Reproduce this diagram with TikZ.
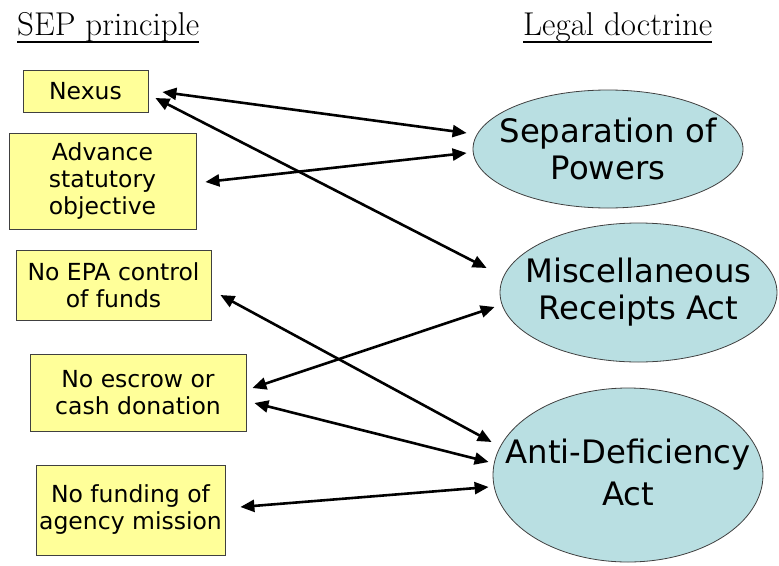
\documentclass[tikz,border=0pt]{standalone}
\usepackage{fontspec}
\newfontfamily\boxfont{DejaVu Sans}
\usetikzlibrary{shapes.geometric,arrows.meta}
\definecolor{boxyellow}{HTML}{FFFF99}
\definecolor{ellblue}{HTML}{B9DFE2}
\tikzset{
  principle/.style={draw=black!75, line width=0.8pt, fill=boxyellow, rectangle, inner sep=0pt,
    align=center, font=\boxfont\fontsize{23.5}{27}\selectfont},
  doctrine/.style={draw=black!75, line width=0.8pt, fill=ellblue, ellipse, inner sep=0pt},
  doctext/.style={inner sep=0pt, align=center, font=\boxfont\fontsize{32.3}{37}\selectfont},
  link/.style={line width=2.6pt, {Triangle[length=14pt,width=12pt]}-{Triangle[length=14pt,width=12pt]}},
  title/.style={inner sep=0pt, anchor=base west, font=\fontsize{33}{38}\selectfont}
}
\begin{document}
\begin{tikzpicture}[x=1pt,y=-1pt]
\useasboundingbox (0,0) rectangle (779,565);

% titles
\node[title] (t1) at (17,35) {SEP principle};
\node[title] (t2) at (523,35) {Legal doctrine};
\draw[line width=2pt] ([yshift=-7pt]t1.base west) -- ([yshift=-7pt]t1.base east);
\draw[line width=2pt] ([yshift=-7pt]t2.base west) -- ([yshift=-7pt]t2.base east);

% principles
\node[principle, minimum width=125pt, minimum height=42pt] (nexus) at (85.5,91) {Nexus};
\node[principle, minimum width=187pt, minimum height=96pt] (adv) at (102.5,181) {Advance\\statutory\\objective};
\node[principle, minimum width=195pt, minimum height=70pt] (epa) at (113.5,285) {No EPA control\\of funds};
\node[principle, minimum width=216pt, minimum height=77pt] (escrow) at (138,392.5) {No escrow or\\cash donation};
\node[principle, minimum width=189pt, minimum height=90pt] (fund) at (130.5,510) {No funding of\\agency mission};

% doctrines
\node[doctrine, minimum width=270pt, minimum height=118pt] (sep) at (608,149) {};
\node[doctext] (septext) at (608,149) {Separation of\\Powers};
\node[doctrine, minimum width=277pt, minimum height=139pt] (misc) at (638.5,292.5) {};
\node[doctext] (misctext) at (638.5,292.5) {Miscellaneous\\Receipts Act};
\node[doctrine, minimum width=270pt, minimum height=174pt] (anti) at (628,475) {};
\node[doctext, font=\boxfont\fontsize{32.3}{42}\selectfont] (antitext) at (628,472) {Anti-Deficiency\\Act};

% connectors
\draw[link] ([shift={(14,1)}]nexus.east) -- ([shift={(-6,-16)}]sep.west);
\draw[link] ([shift={(9,1)}]adv.east) -- ([shift={(-6,4)}]sep.west);
\draw[link] ([shift={(7,7)}]nexus.east) -- ([shift={(-13,-24.5)}]misc.west);
\draw[link] ([shift={(9,10)}]epa.east) -- ([shift={(-1,-33)}]anti.west);
\draw[link] ([shift={(6,-4.5)}]escrow.east) -- ([shift={(-5,14.5)}]misc.west);
\draw[link] ([shift={(8,10.5)}]escrow.east) -- ([shift={(-4,-13)}]anti.west);
\draw[link] ([shift={(15,-3)}]fund.east) -- ([shift={(-4,12)}]anti.west);
\end{tikzpicture}
\end{document}
